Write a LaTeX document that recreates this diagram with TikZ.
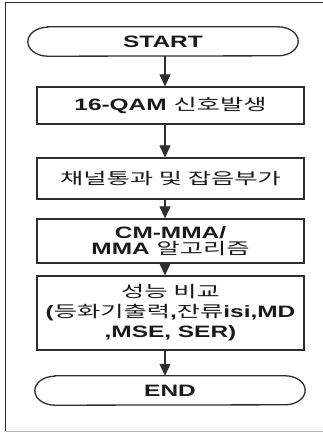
\documentclass[tikz,border=0pt]{standalone}
\usepackage{fontspec}
\setmainfont{Liberation Sans}[FakeStretch=1.48]
\newfontfamily\kr{Noto Sans CJK KR}[FakeStretch=1.58]
\usetikzlibrary{arrows.meta}
\newcommand{\K}[1]{{\kr\mdseries\fontsize{16}{\baselineskip}\selectfont #1}}
\definecolor{lc}{HTML}{2E2E2E}
\definecolor{txt}{HTML}{1A1A1A}
\begin{document}
\begin{tikzpicture}[x=1pt,y=-1pt,
  font=\fontsize{16.5}{20}\selectfont\bfseries,
  box/.style={draw=lc, line width=1.3pt, minimum width=267pt, inner sep=0pt, align=center, text=txt},
  term/.style={minimum width=270pt, minimum height=29pt, inner sep=0pt, text=txt},
  termline/.style={draw=lc, line width=1.3pt},
  arr/.style={draw=lc, line width=1.1pt, -{Triangle[width=11pt,length=12pt]}}]
\useasboundingbox (0,0) rectangle (323,432);
% frame
\draw[lc, line width=1pt] (5,431) -- (5,2) -- (323,2);
\draw[gray!55, line width=1pt] (5,431) -- (323,431);
% nodes
\node[term] (start) at (163,41.5) {START};
\node[box, minimum height=37pt] (b1) at (170.5,105.5) {16-QAM \K{신호발생}};
\node[box, minimum height=41pt] (b2) at (170.5,178.5) {\K{채널통과 및 잡음부가}};
\node[box, minimum height=44pt, font=\fontsize{16.5}{16}\selectfont\bfseries] (b3) at (170.5,241) {CM-MMA/\\MMA \K{알고리즘}};
\node[box, minimum height=74pt] (b4) at (170.5,313) {\K{성능 비교}\\(\K{등화기출력},\K{잔류}isi,MD\\,MSE, SER)};
\node[term] (end) at (170,390.5) {END};
% terminal outlines
\draw[termline] ([xshift=20pt]start.north west) -- ([xshift=-20pt]start.north east)
  arc[start angle=90,end angle=-90,x radius=20pt,y radius=14.5pt]
  -- ([xshift=20pt]start.south west)
  arc[start angle=-90,end angle=-270,x radius=20pt,y radius=14.5pt] -- cycle;
\draw[termline] ([xshift=20pt]end.north west) -- ([xshift=-20pt]end.north east)
  arc[start angle=90,end angle=-90,x radius=20pt,y radius=14.5pt]
  -- ([xshift=20pt]end.south west)
  arc[start angle=-90,end angle=-270,x radius=20pt,y radius=14.5pt] -- cycle;
% connectors
\coordinate (ax) at (165,0);
\draw[arr] (start.south -| ax) -- (b1.north -| ax);
\draw[arr] (b1.south -| ax) -- (b2.north -| ax);
\draw[arr] (b2.south -| ax) -- (b3.north -| ax);
\draw[arr] (b3.south -| ax) -- (b4.north -| ax);
\draw[arr] (b4.south -| ax) -- (end.north -| ax);
\end{tikzpicture}
\end{document}
